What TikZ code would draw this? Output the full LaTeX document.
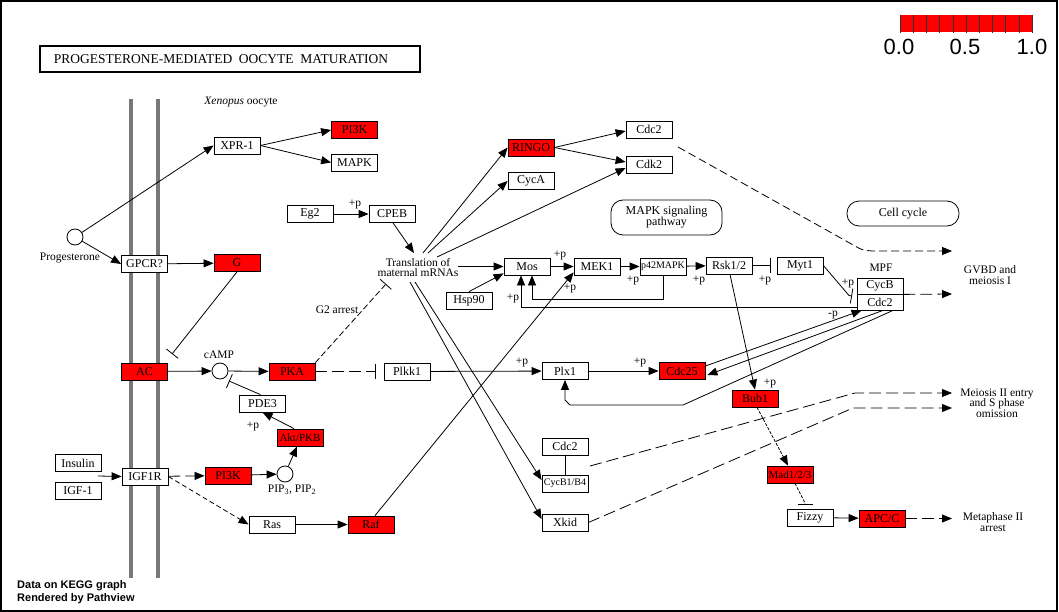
\documentclass[tikz,border=0pt]{standalone}
\usepackage{fontspec}
\setmainfont{Liberation Serif}
\setsansfont{Liberation Sans}
\usetikzlibrary{arrows.meta,calc}
\begin{document}
\begin{tikzpicture}[x=1pt,y=-1pt,
  every node/.style={font=\fontsize{11.5}{12}\selectfont, inner sep=0pt},
  gene/.style={draw, line width=0.8pt, minimum width=46pt, minimum height=17pt, fill=white, font=\fontsize{12}{12}\selectfont},
  hit/.style={gene, fill=red},
  small/.style={font=\fontsize{10}{11}\selectfont},
  cpd/.style={draw, circle, minimum size=16pt, line width=0.8pt, fill=white},
  outtxt/.style={align=center, font=\fontsize{11.5}{10.5}\selectfont},
  pathbox/.style={draw, rounded corners=12pt, line width=0.8pt, align=center, font=\fontsize{12}{11}\selectfont},
  edge/.style={line width=0.8pt, -{Triangle[length=10pt,width=8pt]}},
  inh/.style={line width=0.8pt, -{Bar[width=15pt,line width=0.8pt]}},
  ind/.style={edge, dash pattern=on 12pt off 5pt},
  indf/.style={edge, dash pattern=on 5pt off 3pt},
  plain/.style={line width=0.8pt},
  memb/.style={line width=4pt, draw=black!53}
]
\useasboundingbox (0,0) rectangle (1059,612);
\draw[line width=1.5pt] (1,1) rectangle (1057,611);

% title
\node[draw, line width=1.5pt, minimum width=380pt, minimum height=26pt] (title) at (230,59) {};
\node[font=\fontsize{13.5}{14}\selectfont] (titletext) at (221,59) {PROGESTERONE-MEDIATED\ \ OOCYTE\ \ MATURATION};

% legend
\foreach \i in {0,...,9} {
  \fill[red] (900+13.2*\i,15) rectangle (900+13.2*\i+13.2,32);
}
\foreach \i in {0,...,10} {
  \draw[line width=0.6pt, black!80] (900+13.2*\i,15) -- (900+13.2*\i,33);
}
\node[font=\sffamily\fontsize{22}{24}\selectfont] (l0) at (899,47) {0.0};
\node[font=\sffamily\fontsize{22}{24}\selectfont] (l5) at (965,47) {0.5};
\node[font=\sffamily\fontsize{22}{24}\selectfont] (l1) at (1032,47) {1.0};

% membranes
\draw[memb] (131,99) -- (131,578);
\draw[memb] (158,99) -- (158,578);
\node (xen) at (241,102) {\textit{Xenopus} oocyte};

% nodes
\node[gene] (xpr) at (237,145.5) {XPR-1};
\node[hit] (pi3ka) at (354.5,130) {PI3K};
\node[gene] (mapk) at (354.5,162.5) {MAPK};
\node[cpd] (prog) at (75,237) {};
\node (progl) at (70,258) {Progesterone};
\node[gene] (gpcr) at (144.5,264) {GPCR?};
\node[hit] (g) at (237,263) {G};
\node[gene] (eg2) at (310,214) {Eg2};
\node[gene] (cpeb) at (392,214) {CPEB};
\node[align=center, font=\fontsize{11.5}{10}\selectfont] (trans) at (418,268) {Translation of\\maternal mRNAs};
\node (g2) at (337,310) {G2 arrest};
\node[hit] (ac) at (144.5,371.5) {AC};
\node[cpd] (camp) at (220,371) {};
\node (campl) at (219,355) {cAMP};
\node[hit] (pka) at (292,371.5) {PKA};
\node[gene] (plkk1) at (407,371.5) {Plkk1};
\node[gene] (pde3) at (262.5,403.5) {PDE3};
\node[hit, font=\fontsize{11}{12}\selectfont] (akt) at (300,437.5) {Akt/PKB};
\node[gene] (insulin) at (78,463) {Insulin};
\node[gene] (igf1) at (78,490.5) {IGF-1};
\node[gene] (igf1r) at (145,476.5) {IGF1R};
\node[hit] (pi3kb) at (228,475.5) {PI3K};
\node[cpd] (pip) at (285,474) {};
\node (pipl) at (292,490) {PIP\textsubscript{3}, PIP\textsubscript{2}};
\node[gene] (ras) at (272,524.5) {Ras};
\node[hit] (raf) at (371,524.5) {Raf};
\node[gene] (cdc2a) at (649,129.5) {Cdc2};
\node[hit] (ringo) at (531,147.5) {RINGO};
\node[gene] (cdk2) at (649,164.5) {Cdk2};
\node[gene] (cyca) at (531,181) {CycA};
\node[pathbox, minimum width=111pt, minimum height=35pt] (mapkpath) at (666.5,217.5) {MAPK signaling\\pathway};
\node[pathbox, minimum width=112pt, minimum height=25pt] (cellcycle) at (903,213.5) {Cell cycle};
\node[gene] (mos) at (527,266.5) {Mos};
\node[gene] (mek1) at (597,266.5) {MEK1};
\node[gene, small] (p42) at (663,266.5) {p42MAPK};
\node[gene] (rsk) at (729,265.5) {Rsk1/2};
\node[gene] (myt1) at (800,265.5) {Myt1};
\node (mpfl) at (881,268) {MPF};
\node[gene, minimum height=16pt] (cycb) at (880,286) {CycB};
\node[gene, minimum height=16pt] (cdc2m) at (880,302) {Cdc2};
\node[gene] (hsp90) at (469,300.5) {Hsp90};
\node[gene] (plx1) at (565,371) {Plx1};
\node[hit] (cdc25) at (682,371) {Cdc25};
\node[hit] (bub1) at (755,398.5) {Bub1};
\node[gene] (cdc2b) at (565,446.5) {Cdc2};
\node[gene, small] (cycb14) at (565,483.5) {CycB1/B4};
\node[gene] (xkid) at (565,522.5) {Xkid};
\node[hit, font=\fontsize{11}{12}\selectfont] (mad) at (790,474.5) {Mad1/2/3};
\node[gene] (fizzy) at (810,517.5) {Fizzy};
\node[hit] (apcc) at (882,518.5) {APC/C};
\node[outtxt] (gvbd) at (990,275) {GVBD and\\meiosis I};
\node[outtxt] (meio) at (997,403) {Meiosis II entry\\and S phase\\omission};
\node[outtxt] (metaph) at (993,522) {Metaphase II\\arrest};

% free-end coordinates
\coordinate (gacend) at (172,354);
\coordinate (pdeend) at (229,381);
\coordinate (insin) at (98,476);
\coordinate (g2end) at (386,284);
\coordinate (trin) at (414,253);
\coordinate (tr1) at (423,253);
\coordinate (tr2) at (428,253);
\coordinate (tr3) at (437,257);
\coordinate (tr4) at (458,266.5);
\coordinate (tr5) at (415,282);
\coordinate (tr6) at (410,282);
\coordinate (cdcs) at (678,147);
\coordinate (gv1) at (952,251);
\coordinate (gv2) at (952,294);
\coordinate (me1) at (952,393);
\coordinate (me2) at (952,408);
\coordinate (mt) at (952,518.5);
\coordinate (cxs) at (590,466);

% edges
\draw[edge] (prog) -- (xpr.west);
\draw[edge] (prog) -- (gpcr.west);
\draw[edge] (xpr.east) -- (pi3ka.west);
\draw[edge] (xpr.east) -- (mapk.west);
\draw[edge] (gpcr) -- (g);
\draw[inh] (g.south) -- (gacend);
\draw[edge] (ac) -- (camp);
\draw[edge] (camp) -- (pka);
\draw[inh] ([xshift=-2pt]pde3.north) -- (pdeend);
\draw[edge] ([xshift=-6pt]akt.north) -- (pde3.south);
\draw[ind] (igf1r) -- (pi3kb);
\draw[indf] (igf1r.east) -- (ras.west);
\draw[edge] (pi3kb) -- (pip);
\draw[edge] (pip) -- ([xshift=-3pt]akt.south);
\draw[edge] (ras) -- (raf);
\draw[edge] ([xshift=4pt]raf.north) -- ([yshift=3pt]mek1.south west);
\draw[edge] (insin) -- (igf1r.west);
\draw[inh, dash pattern=on 12pt off 5pt] (pka.east) -- ([xshift=-8pt]plkk1.west);
\draw[inh, dash pattern=on 6pt off 3pt] (pka.north east) -- (g2end);
\draw[edge] (plkk1) -- (plx1);
\draw[edge] (plx1) -- (cdc25);
\draw[edge] (eg2) -- (cpeb);
\draw[edge] ([xshift=1pt]cpeb.south) -- (trin);
\draw[edge] (tr1) -- (ringo.west);
\draw[edge] (tr2) -- (cyca.west);
\draw[edge] (tr3) -- ([yshift=-3.5pt]cdk2.west);
\draw[edge] (tr4) -- (mos.west);
\draw[edge] (hsp90.north) -- ([yshift=2pt]mos.south west);
\draw[edge] (tr5) -- ([yshift=3.5pt]cycb14.west);
\draw[edge] (tr6) -- ([yshift=3.5pt]xkid.west);
\draw[edge] (ringo.east) -- ([yshift=-1.5pt]cdc2a.west);
\draw[edge] (ringo.east) -- ([yshift=2.5pt]cdk2.west);
\draw[edge, dash pattern=on 8pt off 4pt] (cdcs) -- (855,246) .. controls (862,250) .. (872,251) -- (gv1);
\draw[edge] (mos) -- (mek1);
\draw[edge] (mek1) -- (p42);
\draw[edge] (p42) -- (rsk);
\draw[edge] (p42.south) -- ++(0,24) -| ([xshift=5pt]mos.south);
\draw[edge] ([yshift=-5pt]cdc2m.west) -| ([xshift=-6pt]mos.south);
\draw[inh] (rsk) -- ([xshift=-6pt]myt1.west);
\draw[inh] (myt1.east) -- (849,295.5) -- (852,296);
\draw[edge] ([xshift=1pt]rsk.south) -- (bub1.north);
\draw[ind] (cycb.south east) -- (gv2);
\draw[edge] ([yshift=5pt]cdc25.east) -- ([xshift=5pt]cdc2m.south west);
\draw[edge] ([xshift=3pt]cdc2m.south) -- ([xshift=2pt,yshift=-4pt]cdc25.east);
\draw[edge] ([xshift=13pt]cdc2m.south) -- (683,405) -- (570,405) -- (565,400) -- (plx1.south);
\draw[edge, dash pattern=on 3pt off 1.5pt] ([xshift=2pt]bub1.south) -- ([xshift=-2pt]mad.north);
\draw[inh, dash pattern=on 3pt off 1.5pt] ([xshift=5pt]mad.south) -- (805,503) -- (805,505);
\draw[edge] (fizzy) -- (apcc);
\draw[ind] (apcc.east) -- (mt);
\draw[ind] (cxs) -- (855,393) -- (me1);
\draw[ind] (xkid.east) -- (853,408) -- (me2);
\draw[plain] (cdc2b) -- (cycb14);

% +p labels
\node (p1) at (355,204) {+p};
\node (p2) at (253,426) {+p};
\node (p3) at (560,255) {+p};
\node (p4) at (570,288) {+p};
\node (p5) at (513,298) {+p};
\node (p6) at (633,280) {+p};
\node (p7) at (699,280) {+p};
\node (p8) at (765,280) {+p};
\node (p9) at (848,283) {+p};
\node (pm) at (833,315) {-p};
\node (p10) at (522,362) {+p};
\node (p11) at (640,362) {+p};
\node (p12) at (770,383) {+p};

% footer
\node[font=\sffamily\bfseries\fontsize{11}{13}\selectfont, align=left, anchor=west] (foot) at (17,592) {Data on KEGG graph\\Rendered by Pathview};
\end{tikzpicture}
\end{document}
